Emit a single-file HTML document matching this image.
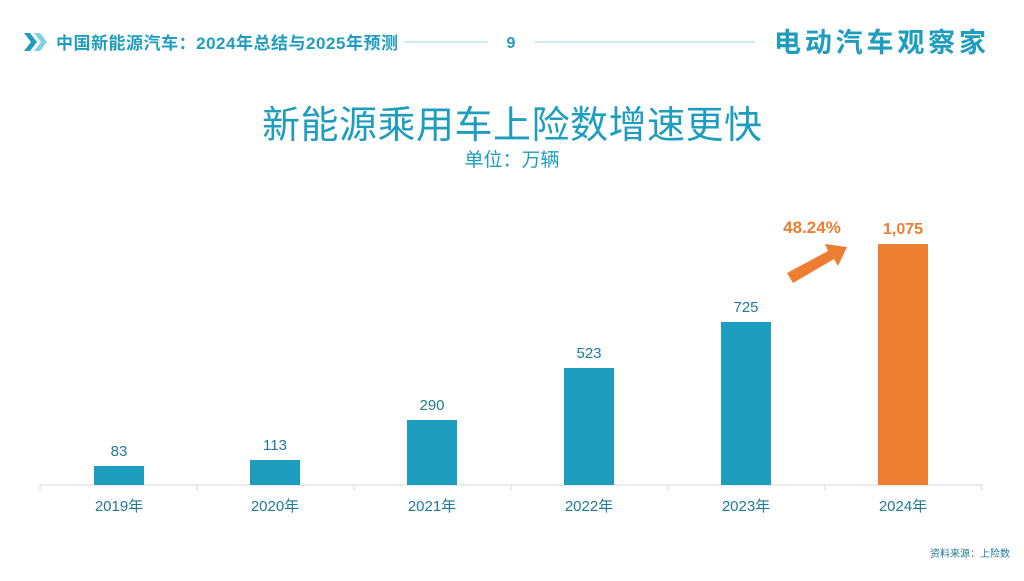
<!DOCTYPE html>
<html><head><meta charset="utf-8"><style>
body{margin:0;width:1024px;height:576px;background:#fff;overflow:hidden;font-family:"Liberation Sans","Noto Sans CJK SC",sans-serif;}
</style></head><body>
<svg width="1024" height="576" xmlns="http://www.w3.org/2000/svg" font-family="Liberation Sans, Noto Sans CJK SC, sans-serif">
<polygon points="24,33 30,33 37,42 30,51 24,51 31,42" fill="#1f9dbf"/>
<polygon points="34,33 40,33 47,42 40,51 34,51 41,42" fill="#7fd0e4"/>
<text x="56" y="49" font-size="17" font-weight="bold" fill="#1f9dbf" textLength="342">中国新能源汽车：2024年总结与2025年预测</text>
<line x1="404" y1="42" x2="488" y2="42" stroke="#9fd3e2" stroke-width="1"/>
<text x="511" y="48" font-size="16" font-weight="bold" fill="#1f9dbf" text-anchor="middle">9</text>
<line x1="535" y1="42" x2="755" y2="42" stroke="#9fd3e2" stroke-width="1"/>
<text x="774" y="52" font-size="27" font-weight="bold" fill="#1f9dbf" textLength="212">电动汽车观察家</text>
<text x="512" y="138" font-size="38" fill="#1f9dbf" text-anchor="middle" textLength="500">新能源乘用车上险数增速更快</text>
<text x="512" y="166" font-size="19" fill="#1f9dbf" text-anchor="middle">单位：万辆</text>
<line x1="40" y1="485" x2="982" y2="485" stroke="#d9d9d9"/>
<g stroke="#d9d9d9"><line x1="40" y1="485" x2="40" y2="491"/><line x1="197" y1="485" x2="197" y2="491"/><line x1="354" y1="485" x2="354" y2="491"/><line x1="511" y1="485" x2="511" y2="491"/><line x1="668" y1="485" x2="668" y2="491"/><line x1="825" y1="485" x2="825" y2="491"/><line x1="982" y1="485" x2="982" y2="491"/></g>
<g fill="#1f9dbf">
<rect x="94" y="466" width="50" height="19"/>
<rect x="250" y="460" width="50" height="25"/>
<rect x="407" y="420" width="50" height="65"/>
<rect x="564" y="368" width="50" height="117"/>
<rect x="721" y="322" width="50" height="163"/>
</g>
<rect x="878" y="244" width="50" height="241" fill="#ed7d31"/>
<g font-size="15" fill="#1f7a96" text-anchor="middle">
<text x="119" y="456">83</text><text x="275" y="450">113</text><text x="432" y="410">290</text><text x="589" y="358">523</text><text x="746" y="312">725</text>
</g>
<text x="903" y="234" font-size="16" font-weight="bold" fill="#ed7d31" text-anchor="middle">1,075</text>
<text x="812" y="233" font-size="17" font-weight="bold" fill="#ed7d31" text-anchor="middle">48.24%</text>
<polygon points="787,273 828,251 825,244 847,247 838,266 834,259 793,283" fill="#ed7d31"/>
<g font-size="15" fill="#1f7a96" text-anchor="middle">
<text x="119" y="511">2019年</text><text x="275" y="511">2020年</text><text x="432" y="511">2021年</text><text x="589" y="511">2022年</text><text x="746" y="511">2023年</text><text x="903" y="511">2024年</text>
</g>
<text x="1010" y="557" font-size="10" fill="#1f7a96" text-anchor="end">资料来源：上险数</text>
</svg>
</body></html>
